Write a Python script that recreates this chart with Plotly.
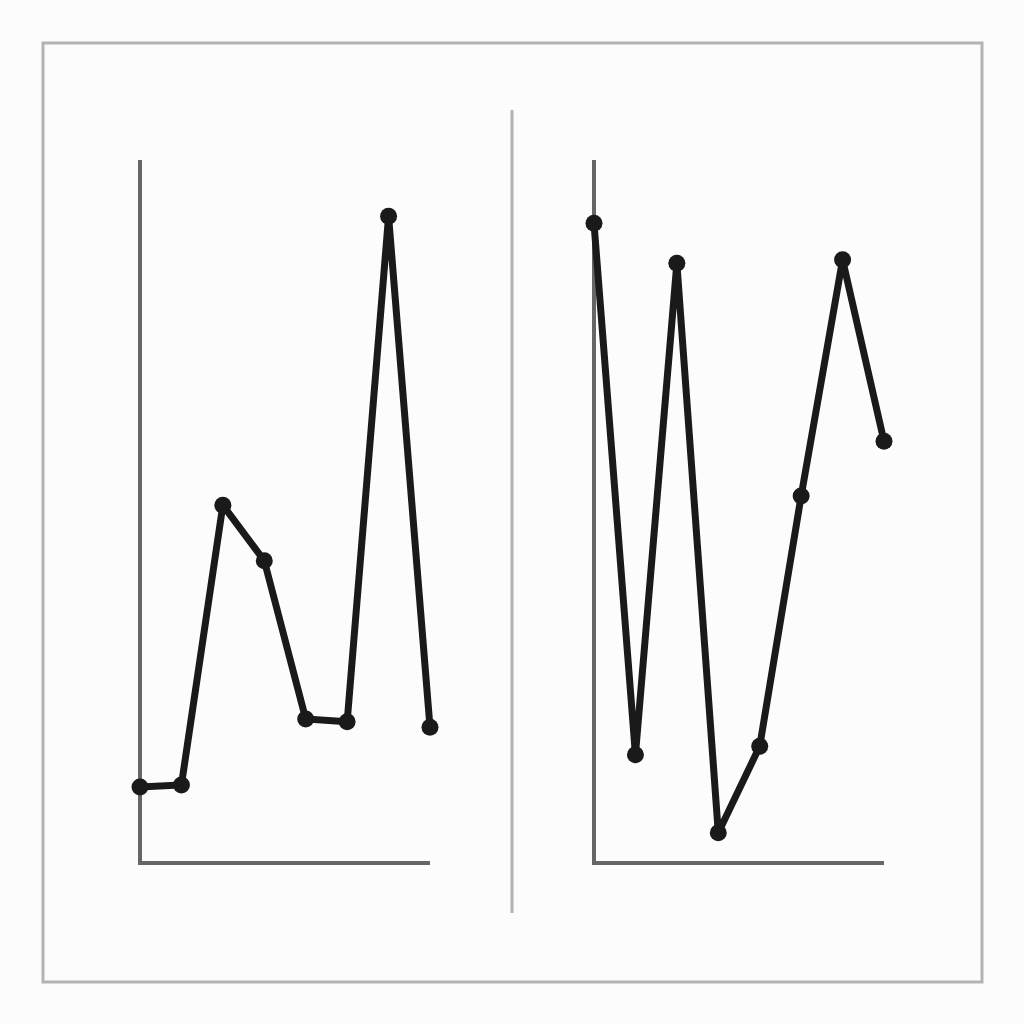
import plotly.graph_objects as go

# data (y on a 0-100 scale)
steps = [0, 1, 2, 3, 4, 5, 6, 7]
left_values = [10.8, 11.1, 50.9, 43.0, 20.5, 20.1, 92.0, 19.3]
right_values = [91.0, 15.4, 85.3, 4.3, 16.6, 52.2, 85.8, 60.0]

W = 1024
OFF = 8  # page body margin shifts the figure by 8px
line_color = "#1a1a1a"
axis_color = "#666666"
frame_color = "#b3b3b3"
bg_color = "#fcfcfc"


def px(v):
    # pixel position in the screenshot -> paper fraction along x
    return (v - OFF) / W


def py(v):
    # pixel position in the screenshot -> paper fraction along y
    return 1 - (v - OFF) / W


fig = go.Figure()

# Left and right series
for vals, xa, ya in [(left_values, "x", "y"), (right_values, "x2", "y2")]:
    fig.add_trace(go.Scatter(
        x=steps, y=vals, xaxis=xa, yaxis=ya,
        mode="lines+markers",
        line=dict(color=line_color, width=7),
        marker=dict(color=line_color, size=17),
        cliponaxis=False, showlegend=False, hoverinfo="skip",
    ))

# pad the axes so nothing gets clipped; the axis lines are drawn as shapes
x_pad, y_pad = 0.5, 5
step_px = (430 - 140) / 7
unit_px = (863 - 160) / 100

ax_common = dict(showgrid=False, zeroline=False, showticklabels=False, ticks="",
                 showline=False)
y_dom = [py(863 + y_pad * unit_px), py(160 - y_pad * unit_px)]

shapes = [
    # outer frame
    dict(type="rect", xref="paper", yref="paper",
         x0=px(43), x1=px(982), y0=py(982), y1=py(43),
         line=dict(color=frame_color, width=3), fillcolor="rgba(0,0,0,0)"),
    # divider between panels
    dict(type="line", xref="paper", yref="paper",
         x0=px(512), x1=px(512), y0=py(913), y1=py(110),
         line=dict(color=frame_color, width=3)),
]
for xr, yr in [("x", "y"), ("x2", "y2")]:
    shapes.append(dict(type="path", xref=xr, yref=yr, layer="below",
                       path=f"M 0,100 L 0,0 L {steps[-1]},0",
                       line=dict(color=axis_color, width=4)))

fig.update_layout(
    width=W, height=W,
    margin=dict(l=0, r=0, t=0, b=0),
    paper_bgcolor=bg_color, plot_bgcolor="rgba(0,0,0,0)",
    xaxis=dict(domain=[px(140 - x_pad * step_px), px(430 + x_pad * step_px)],
               range=[-x_pad, 7 + x_pad], anchor="y", **ax_common),
    yaxis=dict(domain=y_dom, range=[-y_pad, 100 + y_pad], anchor="x", **ax_common),
    xaxis2=dict(domain=[px(594 - x_pad * step_px), px(884 + x_pad * step_px)],
                range=[-x_pad, 7 + x_pad], anchor="y2", **ax_common),
    yaxis2=dict(domain=y_dom, range=[-y_pad, 100 + y_pad], anchor="x2", **ax_common),
    shapes=shapes,
)

fig.write_html("out.html", post_script=f"document.body.style.background='{bg_color}';")
